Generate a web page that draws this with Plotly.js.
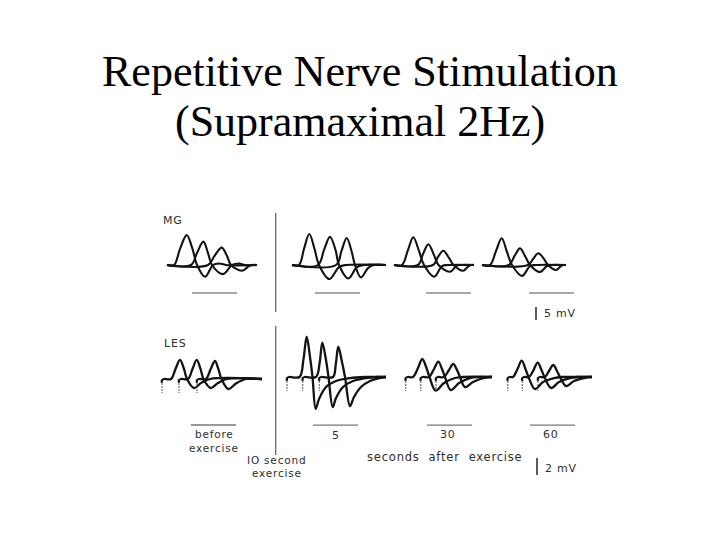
<!DOCTYPE html>
<html><head><meta charset="utf-8">
<script src="https://cdn.plot.ly/plotly-3.0.1.min.js"></script>
<style>
html,body{margin:0;padding:0;background:#fff;}
#chart{width:720px;height:540px;}
text.annotation-text{letter-spacing:0.8px;}
text.annotation-text[style*="44px"]{letter-spacing:0px;}
</style></head>
<body><div id="chart"></div>
<script>
// ---------------- DATA (time in ms, potential in mV) ----------------
// MG (5 mV scale) – three superimposed responses per condition
const MG_PRE_T = [
  [1.4, 2.8, 4.0, 5.34, 6.5, 7.4, 9.0, 10.6, 11.8, 13.2, 19.4],
  [1.4, 6.2, 7.4, 8.66, 9.6, 10.4, 12.6, 14.4, 15.8, 17.0, 19.4],
  [1.4, 9.6, 10.9, 12.34, 13.4, 14.2, 16.4, 17.8, 18.4, 19.4]
];
const MG_PRE_V = [
  [0, 0, 6.2, 11.5, 6.2, 0, -4.5, 0, 0.6, 0, 0],
  [0, 0, 4.6, 9.0, 4.6, 0, -3.5, 0, 0.6, 0, 0],
  [0, 0, 3.5, 6.7, 3.5, 0, -2.2, -0.4, 0, 0]
];
const MG_5S_T = [
  [1.6, 3.0, 4.0, 5.06, 6.1, 7.0, 9.06, 11.0, 12.4, 20.4],
  [1.6, 6.8, 8.0, 9.2, 10.3, 11.0, 12.87, 14.6, 16.0, 20.4],
  [1.6, 10.4, 11.5, 12.54, 13.5, 14.2, 15.4, 16.8, 18.0, 20.4]
];
const MG_5S_V = [
  [0, 0, 6.2, 11.9, 6.2, 0, -5.4, -0.8, 0, 0],
  [0, 0, 5.8, 10.8, 5.8, 0, -5.2, -0.8, 0, 0],
  [0, 0, 5.4, 10.4, 5.4, 0, -4.8, -1.2, 0, 0]
];
const MG_30S_T = [
  [0.8, 2.4, 3.6, 4.66, 5.8, 6.8, 8.86, 10.4, 11.6, 16.8],
  [0.8, 5.6, 6.6, 7.66, 8.8, 9.7, 12.0, 13.4, 14.4, 16.8],
  [0.8, 8.6, 9.6, 10.66, 11.8, 12.7, 14.66, 15.6, 16.2, 16.8]
];
const MG_30S_V = [
  [0, 0, 5.8, 10.7, 5.4, 0, -4.5, -0.4, 0, 0],
  [0, 0, 4.2, 8.0, 3.8, 0, -2.6, -0.2, 0, 0],
  [0, 0, 3.1, 5.5, 2.7, 0, -2.2, -0.6, 0, 0]
];
const MG_60S_T = [
  [0.8, 2.4, 3.6, 4.74, 5.8, 6.8, 8.8, 10.4, 11.6, 17.6],
  [0.8, 6.2, 7.3, 8.4, 9.5, 10.4, 12.4, 13.8, 14.8, 17.6],
  [0.8, 10.0, 11.0, 12.06, 13.2, 14.0, 15.6, 16.6, 17.2, 17.6]
];
const MG_60S_V = [
  [0, 0, 5.4, 10.3, 5.0, 0, -4.2, -0.4, 0, 0],
  [0, 0, 3.5, 6.4, 3.1, 0, -2.7, -0.4, 0, 0],
  [0, 0, 2.3, 4.5, 2.3, 0, -1.9, -0.4, 0, 0]
];

// LES (2 mV scale)
const LES_PRE_T = [
  [1.4, 1.4, 1.8, 3.2, 4.1, 5.0, 5.8, 6.4, 7.8, 9.2, 11.0, 21.4],
  [4.8, 4.8, 5.2, 6.6, 7.5, 8.34, 9.1, 9.7, 11.14, 12.6, 14.4, 21.4],
  [8.4, 8.4, 8.8, 10.2, 11.1, 12.0, 12.7, 13.3, 14.7, 16.2, 18.2, 21.4]
];
const LES_PRE_V = [
  [-0.45, -0.12, 0, 0, 1.18, 2.24, 1.18, 0, -1.06, -0.47, 0, 0],
  [-0.45, -0.12, 0, 0, 1.18, 2.24, 1.18, 0, -1.06, -0.47, 0, 0],
  [-0.45, -0.12, 0, 0, 1.12, 2.12, 1.12, 0, -1.18, -0.53, 0, 0]
];
const LES_5S_T = [
  [1.0, 1.0, 1.4, 3.5, 4.3, 4.94, 5.6, 6.1, 6.74, 7.4, 8.8, 10.8, 13.6, 16.6, 20.8],
  [4.14, 4.14, 4.54, 6.8, 7.55, 8.06, 8.8, 9.3, 10.14, 10.8, 12.2, 14.2, 16.8, 19.2, 20.8],
  [7.46, 7.46, 7.86, 10.2, 10.76, 11.26, 12.0, 12.6, 13.6, 14.4, 15.8, 17.6, 19.6, 20.8]
];
const LES_5S_V = [
  [-0.45, -0.12, 0, 0, 2.1, 4.74, 2.35, 0, -3.76, -2.6, -1.18, -0.47, -0.12, 0, 0],
  [-0.45, -0.12, 0, 0, 1.76, 4.04, 2.0, 0, -3.53, -2.47, -1.18, -0.47, -0.12, 0, 0],
  [-0.45, -0.12, 0, 0, 1.53, 3.56, 1.76, 0, -3.41, -2.35, -1.18, -0.47, -0.12, 0]
];
const LES_30S_T = [
  [1.54, 1.54, 1.94, 3.0, 4.0, 4.86, 5.7, 6.3, 7.54, 9.2, 11.4, 12.8, 18.8],
  [4.54, 4.54, 4.94, 6.2, 7.2, 8.06, 8.8, 9.4, 10.54, 12.2, 14.4, 16.0, 18.8],
  [7.6, 7.6, 8.0, 9.2, 10.2, 11.06, 11.8, 12.4, 13.4, 15.0, 17.0, 18.4, 18.8]
];
const LES_30S_V = [
  [-0.45, -0.12, 0, 0, 1.06, 2.12, 1.06, 0, -1.61, -0.71, -0.12, 0, 0],
  [-0.45, -0.12, 0, 0, 0.94, 1.8, 0.94, 0, -1.53, -0.71, -0.12, 0, 0],
  [-0.45, -0.12, 0, 0, 0.82, 1.53, 0.82, 0, -1.18, -0.59, -0.12, 0, 0]
];
const LES_60S_T = [
  [1.54, 1.54, 1.94, 2.6, 3.5, 4.34, 5.1, 5.7, 7.0, 8.6, 10.8, 12.4, 18.4],
  [4.46, 4.46, 4.86, 5.8, 6.7, 7.54, 8.3, 8.9, 10.2, 11.8, 14.0, 15.6, 18.4],
  [7.6, 7.6, 8.0, 9.0, 9.8, 10.66, 11.4, 12.0, 13.2, 14.8, 16.8, 18.0, 18.4]
];
const LES_60S_V = [
  [-0.45, -0.12, 0, 0, 0.94, 1.92, 0.94, 0, -1.41, -0.59, -0.12, 0, 0],
  [-0.45, -0.12, 0, 0, 0.82, 1.68, 0.82, 0, -1.29, -0.59, -0.12, 0, 0],
  [-0.45, -0.12, 0, 0, 0.71, 1.41, 0.71, 0, -1.06, -0.47, -0.12, 0, 0]
];
// stimulus artifact times (ms) in LES panels
const LES_STIM = [[1.4, 4.8, 8.4], [1.0, 4.14, 7.46], [1.54, 4.54, 7.6], [1.54, 4.46, 7.6]];
const ARTIFACT_MV = [-0.5, -1.65];

// time-calibration bars under each panel (start in ms, length in ms, level in mV)
const BAR_MS = 9;
const MG_BAR_START = [6.4, 6.2, 7.2, 10.2];
const MG_BAR_MV = [-10.8, -10.8, -10.8, -10.8];
const LES_BAR_START = [7.2, 6.2, 5.8, 6.0];
const LES_BAR_MV = [-5.41, -5.65, -5.65, -5.65];

// amplitude calibration bars
const MG_CAL = {t: 11.6, from: -16.15, to: -21.15};   // 5 mV
const LES_CAL = {t: 7.4, from: -9.53, to: -11.53};    // 2 mV

// labels
const ROW_LABELS = ['MG', 'LES'];
const COND_LABELS = ['5', '30', '60'];
const TITLE_LINES = ['Repetitive Nerve Stimulation', '(Supramaximal 2Hz)'];

// ---------------- LAYOUT (pixels) ----------------
const W = 720, H = 540, PX_PER_MS = 5;
const ROWS = {
  mg:  {top: 205, bot: 330, pxmv: 2.6, lw: 2.1},
  les: {top: 320, bot: 485, pxmv: 8.5, lw: 2.3}
};
const PANELS = [
  {row: 'mg', x0: 160, x1: 272, base: 265, t: MG_PRE_T, v: MG_PRE_V, bar: MG_BAR_START[0], barV: MG_BAR_MV[0]},
  {row: 'mg', x0: 284, x1: 390, base: 265, t: MG_5S_T, v: MG_5S_V, bar: MG_BAR_START[1], barV: MG_BAR_MV[1]},
  {row: 'mg', x0: 390, x1: 478, base: 265, t: MG_30S_T, v: MG_30S_V, bar: MG_BAR_START[2], barV: MG_BAR_MV[2]},
  {row: 'mg', x0: 478, x1: 600, base: 265, t: MG_60S_T, v: MG_60S_V, bar: MG_BAR_START[3], barV: MG_BAR_MV[3]},
  {row: 'les', x0: 155, x1: 272, base: 379, t: LES_PRE_T, v: LES_PRE_V, bar: LES_BAR_START[0], barV: LES_BAR_MV[0], stim: LES_STIM[0]},
  {row: 'les', x0: 282, x1: 398, base: 377, t: LES_5S_T, v: LES_5S_V, bar: LES_BAR_START[1], barV: LES_BAR_MV[1], stim: LES_STIM[1]},
  {row: 'les', x0: 398, x1: 500, base: 377, t: LES_30S_T, v: LES_30S_V, bar: LES_BAR_START[2], barV: LES_BAR_MV[2], stim: LES_STIM[2]},
  {row: 'les', x0: 500, x1: 600, base: 377, t: LES_60S_T, v: LES_60S_V, bar: LES_BAR_START[3], barV: LES_BAR_MV[3], stim: LES_STIM[3]}
];

const layout = {
  width: W, height: H,
  margin: {l: 0, r: 0, t: 0, b: 0, pad: 0},
  paper_bgcolor: '#ffffff', plot_bgcolor: 'rgba(0,0,0,0)',
  showlegend: false, shapes: [], annotations: []
};
const traces = [];
const TRACE_COLOR = '#131313';

PANELS.forEach((p, i) => {
  const id = i === 0 ? '' : String(i + 1);
  const r = ROWS[p.row];
  layout['xaxis' + id] = {
    domain: [p.x0 / W, p.x1 / W], range: [0, (p.x1 - p.x0) / PX_PER_MS],
    visible: false, fixedrange: true, anchor: 'y' + id
  };
  layout['yaxis' + id] = {
    domain: [1 - r.bot / H, 1 - r.top / H],
    range: [-(r.bot - p.base) / r.pxmv, (p.base - r.top) / r.pxmv],
    visible: false, fixedrange: true, anchor: 'x' + id
  };
  for (let j = 0; j < p.t.length; j++) {
    traces.push({
      x: p.t[j], y: p.v[j], xaxis: 'x' + id, yaxis: 'y' + id,
      type: 'scatter', mode: 'lines', hoverinfo: 'skip', showlegend: false,
      line: {color: TRACE_COLOR, width: r.lw, shape: 'spline', smoothing: 1}
    });
  }
  if (p.stim) {
    const sx = [], sy = [];
    p.stim.forEach(s => { sx.push(s, s, null); sy.push(ARTIFACT_MV[0], ARTIFACT_MV[1], null); });
    traces.push({
      x: sx, y: sy, xaxis: 'x' + id, yaxis: 'y' + id,
      type: 'scatter', mode: 'lines', hoverinfo: 'skip', showlegend: false,
      line: {color: '#444', width: 1.2, dash: '1.5px,1.5px'}
    });
  }
  layout.shapes.push({
    type: 'line', xref: 'x' + id, yref: 'y' + id,
    x0: p.bar, x1: p.bar + BAR_MS, y0: p.barV, y1: p.barV,
    line: {color: p.row === 'mg' ? '#a8a8a8' : '#777777', width: p.row === 'mg' ? 2 : 1.3}
  });
});

// amplitude calibration bars
layout.shapes.push({type: 'line', xref: 'x4', yref: 'y4', x0: MG_CAL.t, x1: MG_CAL.t, y0: MG_CAL.from, y1: MG_CAL.to, line: {color: '#333', width: 1.6}});
layout.shapes.push({type: 'line', xref: 'x8', yref: 'y8', x0: LES_CAL.t, x1: LES_CAL.t, y0: LES_CAL.from, y1: LES_CAL.to, line: {color: '#333', width: 1.6}});

// divider between "before" and "after" columns
const DIV_X = 275.7;
[[213, 312], [326, 455]].forEach(seg => {
  layout.shapes.push({type: 'line', xref: 'paper', yref: 'paper',
    x0: DIV_X / W, x1: DIV_X / W, y0: 1 - seg[0] / H, y1: 1 - seg[1] / H,
    line: {color: '#6a6a6a', width: 1.3}});
});

// text
function ann(text, px, py, size, opts) {
  opts = opts || {};
  layout.annotations.push(Object.assign({
    text: text, x: px / W, y: 1 - py / H, xref: 'paper', yref: 'paper',
    xanchor: 'center', yanchor: 'middle', showarrow: false,
    font: {family: 'DejaVu Sans, sans-serif', size: size, color: '#2e2e2e'}
  }, opts));
}
const TITLE_FONT = {family: 'Liberation Serif, Times New Roman, serif', size: 44, color: '#000000'};
ann(TITLE_LINES[0], 360, 71, 44, {font: TITLE_FONT});
ann(TITLE_LINES[1], 360, 121, 44, {font: TITLE_FONT});

ann(ROW_LABELS[0], 173, 221, 11);
ann(ROW_LABELS[1], 175, 343, 11);
ann('before', 214, 434, 10.5);
ann('exercise', 213.5, 448, 10.5);
ann('IO second', 276, 460, 10.5);
ann('exercise', 276.5, 472.5, 10.5);
ann('seconds  after  exercise', 444.7, 457, 11.5);
ann(COND_LABELS[0], 335.5, 435, 11);
ann(COND_LABELS[1], 448, 434, 11);
ann(COND_LABELS[2], 551, 434, 11);
ann('5 mV', 542, 313, 11, {xanchor: 'left'});
ann('2 mV', 543, 468, 11, {xanchor: 'left'});

Plotly.newPlot('chart', traces, layout, {staticPlot: true, displayModeBar: false});
</script></body></html>
